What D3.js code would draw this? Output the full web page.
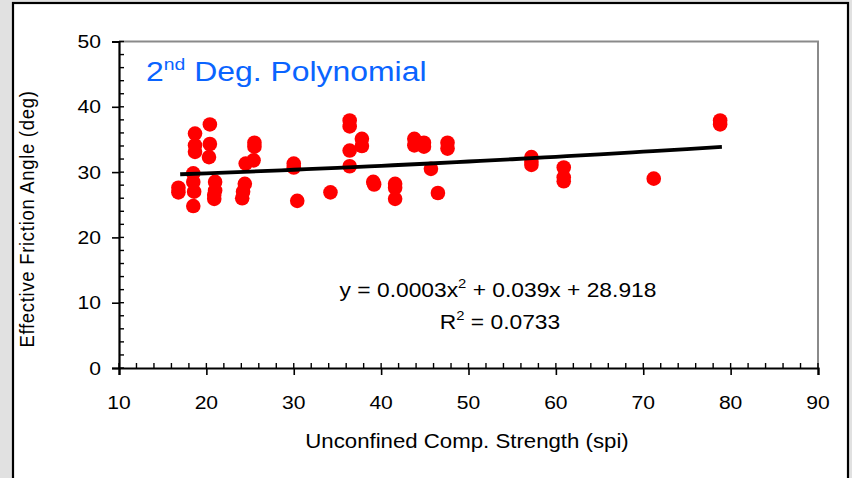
<!DOCTYPE html>
<html><head><meta charset="utf-8">
<script src="https://cdn.jsdelivr.net/npm/d3@7"></script>
<style>
html,body{margin:0;padding:0;background:#e1e1e1;}
svg{display:block;}
text{font-family:"Liberation Sans",Arial,sans-serif;}
</style></head><body>
<svg id="c" width="852" height="478"></svg>
<script>
// Data
const ucsValues   = [16.8,16.8,18.7,18.7,18.7,18.5,18.5,18.6,18.5,20.4,20.4,20.3,21.0,21.0,20.9,20.9,24.5,24.4,24.2,24.1,25.5,25.5,25.4,30.0,30.0,30.4,34.2,36.4,36.4,36.4,36.4,37.8,37.8,39.1,39.2,41.6,41.6,41.6,43.8,43.8,44.9,44.9,45.7,46.5,47.6,47.6,57.2,57.2,57.2,60.9,60.9,60.9,71.2,78.8,78.8];
const angleValues = [27.6,26.9,35.9,34.1,33.1,29.8,28.5,27.0,24.8,37.3,34.3,32.3,28.5,27.2,26.5,25.9,31.3,28.2,27.0,26.0,34.5,33.9,31.8,31.3,30.7,25.6,26.9,37.9,37.0,33.3,30.9,35.1,34.0,28.5,28.1,28.2,27.6,25.9,35.1,34.1,34.5,33.9,30.5,26.8,34.5,33.6,32.3,31.6,31.1,30.7,29.2,28.6,29.0,37.9,37.3];
const trendX = [17,20,25,30,35,40,45,50,55,60,65,70,75,79];
const trendY = [29.67,29.82,30.08,30.36,30.65,30.96,31.28,31.62,31.97,32.34,32.72,33.12,33.53,33.87];
const xTicks = [10,20,30,40,50,60,70,80,90];
const yTicks = [0,10,20,30,40,50];
const xMinor = d3.range(10,91,2);
const yMinor = d3.range(0,51,2);
const titleMain = "Deg. Polynomial";
const eqText = "y = 0.0003x";
const eqRest = " + 0.039x + 28.918";
const r2Value = " = 0.0733";

const svg = d3.select("#c");
const SX = 1.14;

// outer panel
svg.append("rect").attr("x",13).attr("y",3).attr("width",835).attr("height",480)
  .attr("fill","#fff").attr("stroke","#000").attr("stroke-width",2.2);

const x = d3.scaleLinear().domain([10,90]).range([119,818]);
const y = d3.scaleLinear().domain([0,50]).range([368,41.5]);

// plot frame (top/right gray)
svg.append("path").attr("d",`M${x(10)},${y(50)}H${x(90)}V${y(0)}`)
  .attr("fill","none").attr("stroke","#8a8a8a").attr("stroke-width",2);

function label(px,py,anchor,size,txt,fill){
  const g = svg.append("g").attr("transform",`translate(${px},${py}) scale(${SX},1)`);
  return g.append("text").attr("text-anchor",anchor).attr("font-size",size)
    .attr("fill",fill||"#000").text(txt);
}

// axes via d3
const gx = svg.append("g").attr("transform",`translate(0,${y(0)})`)
  .call(d3.axisBottom(x).tickValues(xTicks).tickSize(7).tickFormat(""));
const gy = svg.append("g").attr("transform",`translate(${x(10)},0)`)
  .call(d3.axisLeft(y).tickValues(yTicks).tickSize(7).tickFormat(""));
[gx,gy].forEach(g=>{
  g.select(".domain").attr("stroke","#000").attr("stroke-width",2.2);
  g.selectAll(".tick line").attr("stroke","#000").attr("stroke-width",1.6);
});
// inward minor ticks
svg.append("g").selectAll("line").data(xMinor).join("line")
  .attr("x1",d=>x(d)).attr("x2",d=>x(d)).attr("y1",y(0)).attr("y2",y(0)-5)
  .attr("stroke","#000").attr("stroke-width",1.4);
svg.append("g").selectAll("line").data(yMinor).join("line")
  .attr("x1",x(10)).attr("x2",x(10)+5).attr("y1",d=>y(d)).attr("y2",d=>y(d))
  .attr("stroke","#000").attr("stroke-width",1.4);

// tick labels
xTicks.forEach(t=>label(x(t),409,"middle",18.5,String(t)));
yTicks.forEach(t=>label(101,y(t)+6.5,"end",18.5,String(t)));

// axis titles
label(467,448,"middle",19.5,"Unconfined Comp. Strength (spi)");
svg.append("text").attr("transform",`translate(34,219) scale(${SX},1) rotate(-90)`)
  .attr("text-anchor","middle").attr("font-size",18.5).attr("letter-spacing",0.7)
  .text("Effective Friction Angle (deg)");

// points
const pts = ucsValues.map((v,i)=>({u:v,a:angleValues[i]}));
svg.append("g").selectAll("ellipse").data(pts).join("ellipse")
  .attr("cx",d=>x(d.u)).attr("cy",d=>y(d.a)).attr("rx",7.3).attr("ry",7.3)
  .attr("fill","#ff0000");

// trend line
const line = d3.line().x(d=>x(d[0])).y(d=>y(d[1])).curve(d3.curveMonotoneX);
svg.append("path").datum(trendX.map((v,i)=>[v,trendY[i]])).attr("d",line)
  .attr("fill","none").attr("stroke","#000").attr("stroke-width",3.8);

// title
const tg = svg.append("g").attr("transform",`translate(146,81) scale(${SX},1)`);
const tt = tg.append("text").attr("font-size",28).attr("fill","#0a64ff");
tt.append("tspan").text("2");
tt.append("tspan").attr("font-size",17).attr("dy",-11).text("nd");
tt.append("tspan").attr("dy",11).text(" "+titleMain);

// equation
const eg = svg.append("g").attr("transform",`translate(498,297) scale(${SX},1)`);
const et = eg.append("text").attr("text-anchor","middle").attr("font-size",20);
et.append("tspan").text(eqText);
et.append("tspan").attr("font-size",13).attr("dy",-9).text("2");
et.append("tspan").attr("dy",9).text(eqRest);
const rg = svg.append("g").attr("transform",`translate(500,329) scale(${SX},1)`);
const rt = rg.append("text").attr("text-anchor","middle").attr("font-size",20);
rt.append("tspan").text("R");
rt.append("tspan").attr("font-size",13).attr("dy",-9).text("2");
rt.append("tspan").attr("dy",9).text(r2Value);
</script></body></html>
